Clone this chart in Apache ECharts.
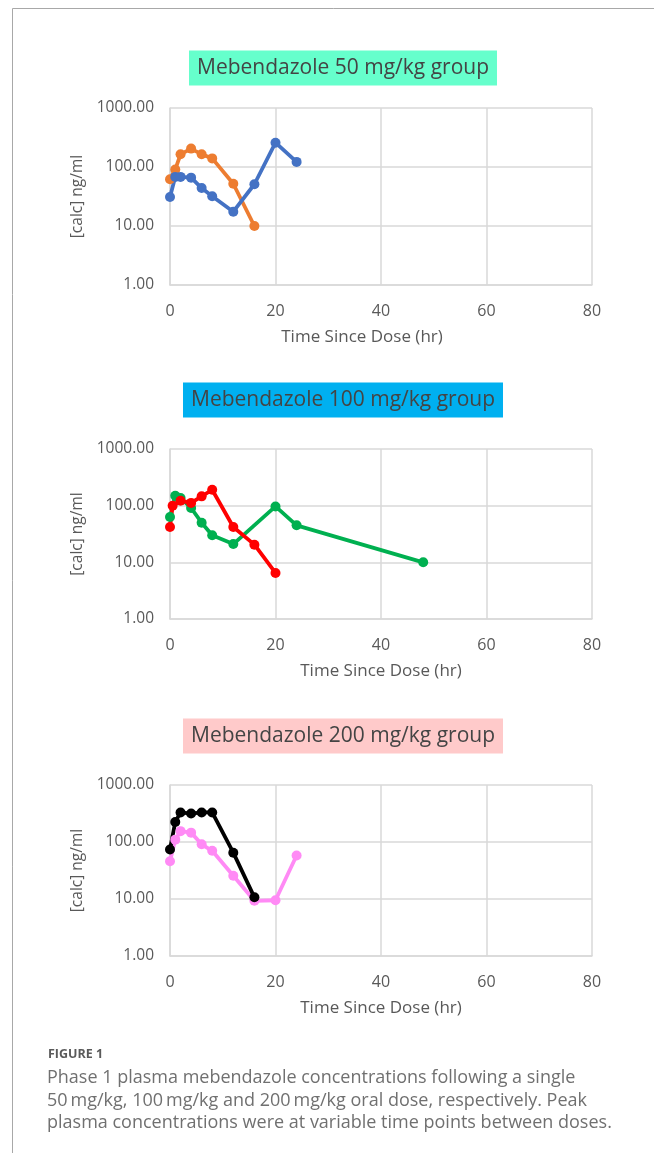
<!DOCTYPE html>
<html>
<head>
<meta charset="utf-8">
<script src="https://cdn.jsdelivr.net/npm/echarts@6/dist/echarts.min.js"></script>
<style>
  html, body { margin: 0; padding: 0; background: #fff; }
  #chart { width: 654px; height: 1153px; }
</style>
</head>
<body>
<div id="chart"></div>
<script>
// panel titles
const panelTitles = ["Mebendazole 50 mg/kg group", "Mebendazole 100 mg/kg group", "Mebendazole 200 mg/kg group"];
const titleColors = ["#66FFCC", "#00B0F0", "#FFCACA"];

// 50 mg/kg
const blueTime = [0, 1, 2, 4, 6, 8, 12, 16, 20, 24];
const blueConc = [31, 68, 68, 66, 44, 32, 17.5, 51, 258, 122];
const orangeTime = [0, 1, 2, 4, 6, 8, 12, 16];
const orangeConc = [62, 91, 164, 205, 164, 140, 52, 10];

// 100 mg/kg
const greenTime = [0, 1, 2, 4, 6, 8, 12, 20, 24, 48];
const greenConc = [63, 150, 137, 91, 50, 30, 21, 97, 45, 10];
const redTime = [0, 0.5, 2, 4, 6, 8, 12, 16, 20];
const redConc = [42, 100, 122, 112, 146, 191, 42, 20.5, 6.5];

// 200 mg/kg
const blackTime = [0, 1, 2, 4, 6, 8, 12, 16];
const blackConc = [74, 225, 330, 316, 330, 330, 65, 10.7];
const pinkTime = [0, 1, 2, 4, 6, 8, 12, 16, 20, 24];
const pinkConc = [46, 110, 155, 146, 91, 70, 25.5, 9.3, 9.5, 58];

const xTicks = [0, 20, 40, 60, 80];
const yTicks = [1, 10, 100, 1000];

const captionHead = "FIGURE 1";
const captionLines = [
  "Phase 1 plasma mebendazole concentrations following a single",
  "50\u2009mg/kg, 100\u2009mg/kg and 200\u2009mg/kg oral dose, respectively. Peak",
  "plasma concentrations were at variable time points between doses."
];

const gridTops = [108, 449, 785];
const gridHeights = [177, 170, 171];
const titleY = [68, 400, 736];

const grey = "#595959";
const gridCol = "#d9d9d9";

function pairs(t, v) { return t.map((x, i) => [x, v[i]]); }

function lineSeries(idx, t, v, color) {
  return {
    type: "line",
    xAxisIndex: idx,
    yAxisIndex: idx,
    data: pairs(t, v),
    symbol: "circle",
    symbolSize: 10,
    color: color,
    lineStyle: { width: 3.8, color: color },
    itemStyle: { color: color },
    animation: false
  };
}

const chart = echarts.init(document.getElementById("chart"));

const grids = gridTops.map((top, i) => ({ left: 170, width: 422, top: top, height: gridHeights[i] }));

const xAxes = gridTops.map((_, i) => ({
  type: "value",
  gridIndex: i,
  min: xTicks[0],
  max: xTicks[xTicks.length - 1],
  interval: 20,
  name: "Time Since Dose (hr)",
  nameLocation: "middle",
  nameGap: 44,
  nameTextStyle: { fontFamily: "Open Sans", fontSize: 17, color: grey, padding: i === 0 ? [0, 38, 0, 0] : 0 },
  axisLine: { show: true, lineStyle: { color: gridCol, width: 1.5 } },
  axisTick: { show: false },
  axisLabel: { fontFamily: "Open Sans", fontSize: 16, color: grey, margin: 18 },
  splitLine: { show: true, lineStyle: { color: gridCol, width: 1.5 } }
}));

const yAxes = gridTops.map((_, i) => ({
  type: "log",
  logBase: 10,
  gridIndex: i,
  min: yTicks[0],
  max: yTicks[yTicks.length - 1],
  name: "[calc] ng/ml",
  nameLocation: "middle",
  nameGap: 66,
  nameTextStyle: { fontFamily: "Open Sans", fontSize: 15.5, color: grey },
  axisLine: { show: true, lineStyle: { color: gridCol, width: 1.5 } },
  axisTick: { show: false },
  axisLabel: { fontFamily: "Open Sans", fontSize: 15.5, color: grey, margin: 16, formatter: (v) => v.toFixed(2) },
  splitLine: { show: true, lineStyle: { color: gridCol, width: 1.5 } }
}));

const graphics = [
  { type: "polyline", shape: { points: [[12.5, 1153], [12.5, 8.5], [654, 8.5]] }, style: { stroke: "#a8a8a8", lineWidth: 1, fill: null } }
];
panelTitles.forEach((t, i) => {
  graphics.push({
    type: "text", x: 343, y: titleY[i],
    style: {
      text: t, fontFamily: "Open Sans", fontSize: 21, fill: "#444444",
      align: "center", verticalAlign: "middle",
      backgroundColor: titleColors[i], padding: [7, 8, 7, 8]
    }
  });
});
graphics.push({
  type: "text", x: 48, y: 1054,
  style: { text: captionHead, fontFamily: "Open Sans", fontSize: 12.5, fontWeight: "bold", fill: "#5a5a5a", verticalAlign: "middle" }
});
captionLines.forEach((line, i) => {
  graphics.push({
    type: "text", x: 47, y: 1078 + i * 22.5,
    style: { text: line, fontFamily: "Open Sans", fontSize: 18, fill: "#707070", verticalAlign: "middle" }
  });
});

chart.setOption({
  backgroundColor: "#fff",
  animation: false,
  grid: grids,
  xAxis: xAxes,
  yAxis: yAxes,
  series: [
    lineSeries(0, orangeTime, orangeConc, "#ED7D31"),
    lineSeries(0, blueTime, blueConc, "#4472C4"),
    lineSeries(1, greenTime, greenConc, "#00B050"),
    lineSeries(1, redTime, redConc, "#FF0000"),
    lineSeries(2, pinkTime, pinkConc, "#FF8AF5"),
    lineSeries(2, blackTime, blackConc, "#000000")
  ],
  graphic: graphics
});
</script>
</body>
</html>
